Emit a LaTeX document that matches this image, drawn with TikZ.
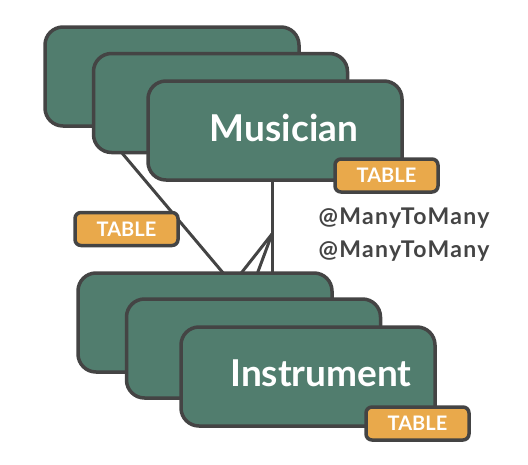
\documentclass[tikz,border=0pt]{standalone}
\usepackage{fontspec}
\setmainfont{Lato}
\newfontfamily\notefont[LetterSpace=6]{Lato}
\definecolor{boxgreen}{HTML}{517D6E}
\definecolor{badge}{HTML}{E9A94B}
\definecolor{ink}{HTML}{444444}
\begin{document}
\begin{tikzpicture}[x=1pt,y=-1pt,
  entity/.style={draw=ink, line width=3.5pt, fill=boxgreen, rounded corners=18pt,
    minimum width=254pt, minimum height=99pt, inner sep=0pt},
  tag/.style={draw=ink, line width=3.5pt, fill=badge, rounded corners=6pt,
    minimum width=103pt, minimum height=33pt, inner sep=0pt,
    text=white, font=\fontsize{20}{20}\selectfont\bfseries},
  title/.style={text=white, font=\fontsize{37}{37}\selectfont\bfseries, inner sep=0pt},
  note/.style={text=ink, font=\notefont\fontsize{23}{23}\selectfont\bfseries, inner sep=0pt, anchor=base},
  link/.style={draw=ink, line width=3pt}]
\useasboundingbox (0,0) rectangle (528,464);
% connector end points
\coordinate (l1a) at (122,153);
\coordinate (l1b) at (224,274);
\coordinate (v1a) at (272,180);
\coordinate (v1b) at (272,274);
\coordinate (fan) at (272,234);
\coordinate (f1b) at (220,300);
\coordinate (f2b) at (237,328);
\draw[link] (l1a) -- (l1b);
\draw[link] (v1a) -- (v1b);
\draw[link] (fan) -- (f1b);
\draw[link] (fan) -- (f2b);
% top stack
\node[entity] (tb) at (172,76.5) {};
\node[entity] (tm) at (220.5,103) {};
\node[entity] (tf) at (275,130.5) {};
\node[title] (mus) at (284,128) {Musician};
\node[tag] (tagtop) at (386.5,175.5) {TABLE};
% left badge
\node[tag] (tagleft) at (126.5,229) {TABLE};
% notes
\node[note] (n1) at (404,224) {@ManyToMany};
\node[note] (n2) at (404,257) {@ManyToMany};
% bottom stack
\node[entity] (bb) at (205,322.5) {};
\node[entity] (bm) at (253.5,348.5) {};
\node[entity] (bf) at (308,376.5) {};
\node[title] (ins) at (321,373) {Instrument};
\node[tag] (tagbot) at (417.5,423.5) {TABLE};
\end{tikzpicture}
\end{document}
